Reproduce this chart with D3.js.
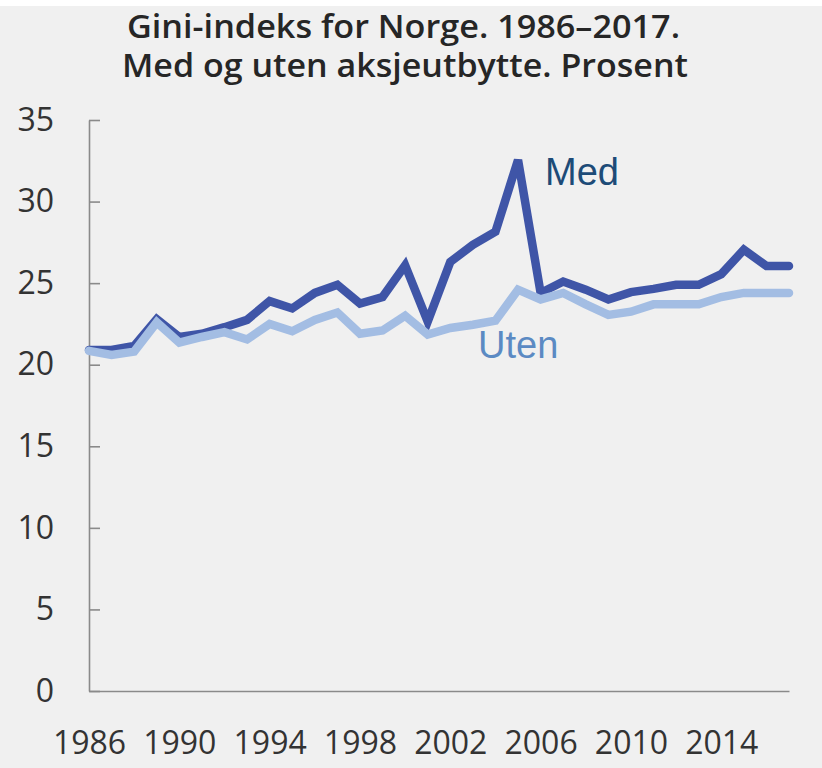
<!DOCTYPE html>
<html>
<head>
<meta charset="utf-8">
<script src="https://cdn.jsdelivr.net/npm/d3@7"></script>
<style>
  body { margin: 0; background: #fff; }
  svg { display: block; }
</style>
</head>
<body>
<div id="chart"></div>
<script>
// Data
const years = d3.range(1986, 2018)
const medValues = [20.9, 20.9, 21.15, 22.8, 21.7, 21.9, 22.3, 22.75, 23.9, 23.45,
  24.4, 24.9, 23.75, 24.15, 26.1, 22.65, 26.3, 27.35, 28.15, 32.55,
  24.4, 25.1, 24.6, 24.0, 24.45, 24.65, 24.9, 24.9, 25.55, 27.05, 26.05, 26.05]
const utenValues = [20.85, 20.6, 20.8, 22.6, 21.35, 21.7, 22.0, 21.55, 22.5, 22.05,
  22.75, 23.2, 21.9, 22.1, 23.0, 21.85, 22.25, 22.45, 22.7, 24.6,
  24.0, 24.4, 23.7, 23.05, 23.25, 23.7, 23.7, 23.7, 24.15, 24.4, 24.4, 24.4]
const yTicks = [0, 5, 10, 15, 20, 25, 30, 35]
const xTicks = [1986, 1990, 1994, 1998, 2002, 2006, 2010, 2014]
const titleLines = ['Gini-indeks for Norge. 1986\u20132017.', 'Med og uten aksjeutbytte. Prosent']

const width = 822,
  height = 768

const svg = d3.select('#chart')
  .append('svg')
  .attr('width', width)
  .attr('height', height)

// grey panel, thin white strip on top
svg.append('rect')
  .attr('x', 0)
  .attr('y', 6)
  .attr('width', width)
  .attr('height', height - 6)
  .attr('fill', '#f0f0f0')

// title
svg.selectAll('.title')
  .data(titleLines)
  .enter()
  .append('text')
  .attr('class', 'title')
  .attr('x', (d, i) => i === 0 ? 127 : 122)
  .attr('y', (d, i) => i === 0 ? 38 : 77)
  .attr('textLength', (d, i) => i === 0 ? 553 : 566)
  .attr('lengthAdjust', 'spacingAndGlyphs')
  .style('font-family', '"Open Sans", sans-serif')
  .style('font-weight', 600)
  .style('font-size', '32px')
  .attr('fill', '#262626')
  .text(d => d)

const xScale = d3.scaleLinear()
  .domain([1986, 2017])
  .range([89, 789])

const yScale = d3.scaleLinear()
  .domain([0, 35])
  .range([691, 120])

const yAxis = d3.axisLeft(yScale)
  .tickValues(yTicks)
  .tickSize(-11)
  .tickSizeOuter(0)
  .tickPadding(35)

const xAxis = d3.axisBottom(xScale)
  .tickValues(xTicks)
  .tickFormat(d3.format('d'))
  .tickSize(0)
  .tickSizeOuter(0)
  .tickPadding(40)

const gy = svg.append('g')
  .attr('transform', 'translate(89,0)')
  .call(yAxis)

const gx = svg.append('g')
  .attr('transform', 'translate(0,691)')
  .call(xAxis)

;[gx, gy].forEach(g => {
  g.select('.domain').attr('stroke', '#8a8a8a').attr('stroke-width', 1.6)
  g.selectAll('.tick line').attr('stroke', '#8a8a8a').attr('stroke-width', 1.6)
  g.selectAll('.tick text')
    .attr('fill', '#333')
    .style('font-family', '"Open Sans", sans-serif')
    .style('font-size', '32px')
})

const line = d3.line()
  .x((d, i) => xScale(years[i]))
  .y(d => yScale(d))

svg.append('path')
  .datum(medValues)
  .attr('d', line)
  .attr('fill', 'none')
  .attr('stroke', '#3f55a7')
  .attr('stroke-width', 8.5)
  .attr('stroke-linecap', 'round')

svg.append('path')
  .datum(utenValues)
  .attr('d', line)
  .attr('fill', 'none')
  .attr('stroke', '#a3bde3')
  .attr('stroke-width', 8.5)
  .attr('stroke-linecap', 'round')

// series labels
svg.append('text')
  .attr('x', 545)
  .attr('y', 185)
  .style('font-family', '"Liberation Sans", Arial, sans-serif')
  .style('font-size', '38px')
  .attr('fill', '#1d4b77')
  .text('Med')

svg.append('text')
  .attr('x', 478)
  .attr('y', 358)
  .style('font-family', '"Liberation Sans", Arial, sans-serif')
  .style('font-size', '38px')
  .attr('fill', '#5b8ac3')
  .text('Uten')
</script>
</body>
</html>
